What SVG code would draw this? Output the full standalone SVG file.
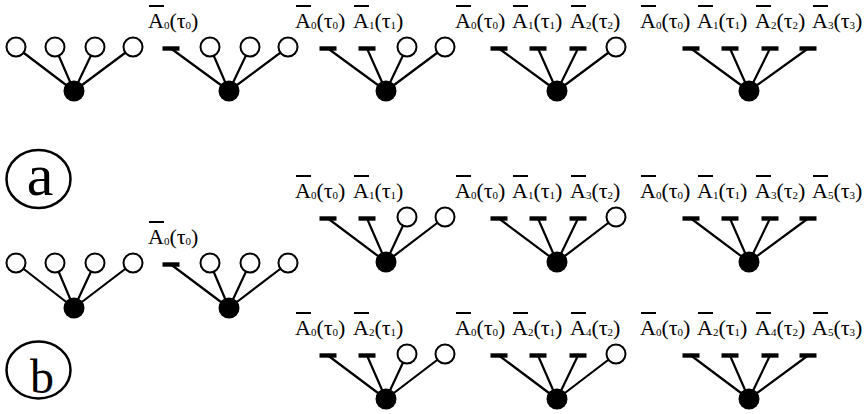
<svg xmlns="http://www.w3.org/2000/svg" width="868" height="414" viewBox="0 0 868 414">
<style>
.lbl{font-family:"Liberation Serif","Times New Roman",serif;font-size:22px;fill:#000}
.sub{font-size:11px}
.ob{stroke:#000;stroke-width:2}
.edge{stroke:#000;stroke-width:2.2;fill:none}
.open{fill:#fff;stroke:#000;stroke-width:2}
.root{fill:#000}
.bar{fill:#000}
.tag{fill:none;stroke:#000;stroke-width:2.5}
.big{font-family:"Liberation Serif","Times New Roman",serif;fill:#000;text-anchor:middle}
</style>
<defs>
<circle id="oc" r="9.5" class="open"/>
<circle id="rc" r="10.5" class="root"/>
<rect id="br" x="-8.5" y="-2.2" width="17" height="4.4" class="bar"/>
</defs>
<rect width="868" height="414" fill="#fff"/>

<g id="connectors">
<path class="edge" d="M16 47L74 91M55 47L74 91M95 47L74 91M133 47L74 91"/>
<path class="edge" d="M171 48.5L229 91M210 47L229 91M250 47L229 91M288 47L229 91"/>
<path class="edge" d="M328 48.5L386 91M367 48.5L386 91M407 47L386 91M445 47L386 91"/>
<path class="edge" d="M499 48.5L557 91M538 48.5L557 91M578 48.5L557 91M616 47L557 91"/>
<path class="edge" d="M691 48.5L749 91M730 48.5L749 91M770 48.5L749 91M808 48.5L749 91"/>
<path class="edge" d="M16 263L74 308M55 263L74 308M95 263L74 308M133 263L74 308"/>
<path class="edge" d="M171 264.5L229 308M210 263L229 308M250 263L229 308M288 263L229 308"/>
<path class="edge" d="M328 218.5L386 262M367 218.5L386 262M407 217L386 262M445 217L386 262"/>
<path class="edge" d="M499 218.5L557 262M538 218.5L557 262M578 218.5L557 262M616 217L557 262"/>
<path class="edge" d="M691 218.5L749 262M730 218.5L749 262M770 218.5L749 262M808 218.5L749 262"/>
<path class="edge" d="M328 355.5L386 399M367 355.5L386 399M407 354L386 399M445 354L386 399"/>
<path class="edge" d="M499 355.5L557 399M538 355.5L557 399M578 355.5L557 399M616 354L557 399"/>
<path class="edge" d="M691 355.5L749 399M730 355.5L749 399M770 355.5L749 399M808 355.5L749 399"/>
</g>

<g id="a1"><use href="#oc" x="16" y="47"/><use href="#oc" x="55" y="47"/><use href="#oc" x="95" y="47"/><use href="#oc" x="133" y="47"/><use href="#rc" x="74" y="91"/></g>
<g id="a2"><use href="#br" x="171" y="48.5"/><use href="#oc" x="210" y="47"/><use href="#oc" x="250" y="47"/><use href="#oc" x="288" y="47"/><use href="#rc" x="229" y="91"/></g>
<g id="a3"><use href="#br" x="328" y="48.5"/><use href="#br" x="367" y="48.5"/><use href="#oc" x="407" y="47"/><use href="#oc" x="445" y="47"/><use href="#rc" x="386" y="91"/></g>
<g id="a4"><use href="#br" x="499" y="48.5"/><use href="#br" x="538" y="48.5"/><use href="#br" x="578" y="48.5"/><use href="#oc" x="616" y="47"/><use href="#rc" x="557" y="91"/></g>
<g id="a5"><use href="#br" x="691" y="48.5"/><use href="#br" x="730" y="48.5"/><use href="#br" x="770" y="48.5"/><use href="#br" x="808" y="48.5"/><use href="#rc" x="749" y="91"/></g>

<g id="b1"><use href="#oc" x="16" y="263"/><use href="#oc" x="55" y="263"/><use href="#oc" x="95" y="263"/><use href="#oc" x="133" y="263"/><use href="#rc" x="74" y="308"/></g>
<g id="b2"><use href="#br" x="171" y="264.5"/><use href="#oc" x="210" y="263"/><use href="#oc" x="250" y="263"/><use href="#oc" x="288" y="263"/><use href="#rc" x="229" y="308"/></g>
<g id="b3"><use href="#br" x="328" y="218.5"/><use href="#br" x="367" y="218.5"/><use href="#oc" x="407" y="217"/><use href="#oc" x="445" y="217"/><use href="#rc" x="386" y="262"/></g>
<g id="b4"><use href="#br" x="499" y="218.5"/><use href="#br" x="538" y="218.5"/><use href="#br" x="578" y="218.5"/><use href="#oc" x="616" y="217"/><use href="#rc" x="557" y="262"/></g>
<g id="b5"><use href="#br" x="691" y="218.5"/><use href="#br" x="730" y="218.5"/><use href="#br" x="770" y="218.5"/><use href="#br" x="808" y="218.5"/><use href="#rc" x="749" y="262"/></g>
<g id="b6"><use href="#br" x="328" y="355.5"/><use href="#br" x="367" y="355.5"/><use href="#oc" x="407" y="354"/><use href="#oc" x="445" y="354"/><use href="#rc" x="386" y="399"/></g>
<g id="b7"><use href="#br" x="499" y="355.5"/><use href="#br" x="538" y="355.5"/><use href="#br" x="578" y="355.5"/><use href="#oc" x="616" y="354"/><use href="#rc" x="557" y="399"/></g>
<g id="b8"><use href="#br" x="691" y="355.5"/><use href="#br" x="730" y="355.5"/><use href="#br" x="770" y="355.5"/><use href="#br" x="808" y="355.5"/><use href="#rc" x="749" y="399"/></g>

<g id="labels">
<text class="lbl" x="148" y="28">A<tspan class="sub" dy="1">0</tspan><tspan dy="-1">(τ</tspan><tspan class="sub" dy="1">0</tspan><tspan dy="-1">)</tspan></text>
<text class="lbl" x="295" y="28">A<tspan class="sub" dy="1">0</tspan><tspan dy="-1">(τ</tspan><tspan class="sub" dy="1">0</tspan><tspan dy="-1">)</tspan></text>
<text class="lbl" x="353" y="28">A<tspan class="sub" dy="1">1</tspan><tspan dy="-1">(τ</tspan><tspan class="sub" dy="1">1</tspan><tspan dy="-1">)</tspan></text>
<text class="lbl" x="455" y="28">A<tspan class="sub" dy="1">0</tspan><tspan dy="-1">(τ</tspan><tspan class="sub" dy="1">0</tspan><tspan dy="-1">)</tspan></text>
<text class="lbl" x="512" y="28">A<tspan class="sub" dy="1">1</tspan><tspan dy="-1">(τ</tspan><tspan class="sub" dy="1">1</tspan><tspan dy="-1">)</tspan></text>
<text class="lbl" x="570" y="28">A<tspan class="sub" dy="1">2</tspan><tspan dy="-1">(τ</tspan><tspan class="sub" dy="1">2</tspan><tspan dy="-1">)</tspan></text>
<text class="lbl" x="640" y="28">A<tspan class="sub" dy="1">0</tspan><tspan dy="-1">(τ</tspan><tspan class="sub" dy="1">0</tspan><tspan dy="-1">)</tspan></text>
<text class="lbl" x="697" y="28">A<tspan class="sub" dy="1">1</tspan><tspan dy="-1">(τ</tspan><tspan class="sub" dy="1">1</tspan><tspan dy="-1">)</tspan></text>
<text class="lbl" x="755" y="28">A<tspan class="sub" dy="1">2</tspan><tspan dy="-1">(τ</tspan><tspan class="sub" dy="1">2</tspan><tspan dy="-1">)</tspan></text>
<text class="lbl" x="812" y="28">A<tspan class="sub" dy="1">3</tspan><tspan dy="-1">(τ</tspan><tspan class="sub" dy="1">3</tspan><tspan dy="-1">)</tspan></text>
<text class="lbl" x="148" y="244">A<tspan class="sub" dy="1">0</tspan><tspan dy="-1">(τ</tspan><tspan class="sub" dy="1">0</tspan><tspan dy="-1">)</tspan></text>
<text class="lbl" x="295" y="198">A<tspan class="sub" dy="1">0</tspan><tspan dy="-1">(τ</tspan><tspan class="sub" dy="1">0</tspan><tspan dy="-1">)</tspan></text>
<text class="lbl" x="353" y="198">A<tspan class="sub" dy="1">1</tspan><tspan dy="-1">(τ</tspan><tspan class="sub" dy="1">1</tspan><tspan dy="-1">)</tspan></text>
<text class="lbl" x="455" y="198">A<tspan class="sub" dy="1">0</tspan><tspan dy="-1">(τ</tspan><tspan class="sub" dy="1">0</tspan><tspan dy="-1">)</tspan></text>
<text class="lbl" x="512" y="198">A<tspan class="sub" dy="1">1</tspan><tspan dy="-1">(τ</tspan><tspan class="sub" dy="1">1</tspan><tspan dy="-1">)</tspan></text>
<text class="lbl" x="570" y="198">A<tspan class="sub" dy="1">3</tspan><tspan dy="-1">(τ</tspan><tspan class="sub" dy="1">2</tspan><tspan dy="-1">)</tspan></text>
<text class="lbl" x="640" y="198">A<tspan class="sub" dy="1">0</tspan><tspan dy="-1">(τ</tspan><tspan class="sub" dy="1">0</tspan><tspan dy="-1">)</tspan></text>
<text class="lbl" x="697" y="198">A<tspan class="sub" dy="1">1</tspan><tspan dy="-1">(τ</tspan><tspan class="sub" dy="1">1</tspan><tspan dy="-1">)</tspan></text>
<text class="lbl" x="755" y="198">A<tspan class="sub" dy="1">3</tspan><tspan dy="-1">(τ</tspan><tspan class="sub" dy="1">2</tspan><tspan dy="-1">)</tspan></text>
<text class="lbl" x="812" y="198">A<tspan class="sub" dy="1">5</tspan><tspan dy="-1">(τ</tspan><tspan class="sub" dy="1">3</tspan><tspan dy="-1">)</tspan></text>
<text class="lbl" x="295" y="335">A<tspan class="sub" dy="1">0</tspan><tspan dy="-1">(τ</tspan><tspan class="sub" dy="1">0</tspan><tspan dy="-1">)</tspan></text>
<text class="lbl" x="353" y="335">A<tspan class="sub" dy="1">2</tspan><tspan dy="-1">(τ</tspan><tspan class="sub" dy="1">1</tspan><tspan dy="-1">)</tspan></text>
<text class="lbl" x="455" y="335">A<tspan class="sub" dy="1">0</tspan><tspan dy="-1">(τ</tspan><tspan class="sub" dy="1">0</tspan><tspan dy="-1">)</tspan></text>
<text class="lbl" x="512" y="335">A<tspan class="sub" dy="1">2</tspan><tspan dy="-1">(τ</tspan><tspan class="sub" dy="1">1</tspan><tspan dy="-1">)</tspan></text>
<text class="lbl" x="570" y="335">A<tspan class="sub" dy="1">4</tspan><tspan dy="-1">(τ</tspan><tspan class="sub" dy="1">2</tspan><tspan dy="-1">)</tspan></text>
<text class="lbl" x="640" y="335">A<tspan class="sub" dy="1">0</tspan><tspan dy="-1">(τ</tspan><tspan class="sub" dy="1">0</tspan><tspan dy="-1">)</tspan></text>
<text class="lbl" x="697" y="335">A<tspan class="sub" dy="1">2</tspan><tspan dy="-1">(τ</tspan><tspan class="sub" dy="1">1</tspan><tspan dy="-1">)</tspan></text>
<text class="lbl" x="755" y="335">A<tspan class="sub" dy="1">4</tspan><tspan dy="-1">(τ</tspan><tspan class="sub" dy="1">2</tspan><tspan dy="-1">)</tspan></text>
<text class="lbl" x="812" y="335">A<tspan class="sub" dy="1">5</tspan><tspan dy="-1">(τ</tspan><tspan class="sub" dy="1">3</tspan><tspan dy="-1">)</tspan></text>
<path class="ob" d="M149 6H164M296 6H311M354 6H369M456 6H471M513 6H528M571 6H586M641 6H656M698 6H713M756 6H771M813 6H828"/>
<path class="ob" d="M149 222H164"/>
<path class="ob" d="M296 176H311M354 176H369M456 176H471M513 176H528M571 176H586M641 176H656M698 176H713M756 176H771M813 176H828"/>
<path class="ob" d="M296 313H311M354 313H369M456 313H471M513 313H528M571 313H586M641 313H656M698 313H713M756 313H771M813 313H828"/>
</g>

<g id="tag-a"><ellipse class="tag" cx="38.5" cy="179" rx="32" ry="29"/><text class="big" x="40" y="195" font-size="60">a</text></g>
<g id="tag-b"><ellipse class="tag" cx="38.5" cy="370" rx="32" ry="28.5"/><text class="big" x="42" y="393" font-size="48">b</text></g>
</svg>
